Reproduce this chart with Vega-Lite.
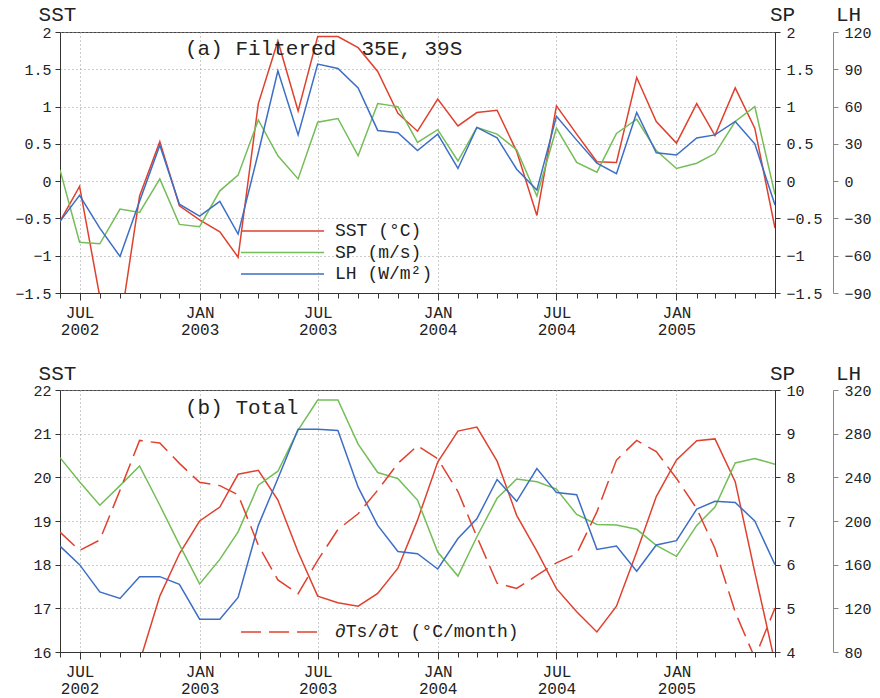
{
  "$schema": "https://vega.github.io/schema/vega-lite/v6.json",
  "background": "white",
  "padding": {"left": 14, "top": 2, "right": 5, "bottom": 0},
  "bounds": "flush",
  "spacing": 97,
  "config": {
    "font": "Liberation Mono",
    "view": {"stroke": "#444", "strokeWidth": 1},
    "axis": {
      "labelFont": "Liberation Mono", "labelFontSize": 15, "labelColor": "#222",
      "titleFont": "Liberation Mono", "titleFontWeight": "normal", "titleFontSize": 21, "titleColor": "#222",
      "domainColor": "#333", "tickColor": "#333", "grid": false, "tickSize": 5
    }
  },
  "datasets": {
    "filtered": [
      {"date": "2002-06-01", "sst": -0.54, "sp": 0.15, "lh": -32.4},
      {"date": "2002-07-01", "sst": -0.07, "sp": -0.82, "lh": -11.4},
      {"date": "2002-08-01", "sst": -1.55, "sp": -0.84, "lh": -37.8},
      {"date": "2002-09-01", "sst": -1.95, "sp": -0.375, "lh": -60.6},
      {"date": "2002-10-01", "sst": -0.2, "sp": -0.42, "lh": -16.2},
      {"date": "2002-11-01", "sst": 0.53, "sp": 0.03, "lh": 28.8},
      {"date": "2002-12-01", "sst": -0.33, "sp": -0.58, "lh": -18.6},
      {"date": "2003-01-01", "sst": -0.52, "sp": -0.61, "lh": -28.2},
      {"date": "2003-02-01", "sst": -0.68, "sp": -0.13, "lh": -16.2},
      {"date": "2003-03-01", "sst": -1.02, "sp": 0.08, "lh": -42.6},
      {"date": "2003-04-01", "sst": 1.04, "sp": 0.82, "lh": 22.8},
      {"date": "2003-05-01", "sst": 1.88, "sp": 0.34, "lh": 88.8},
      {"date": "2003-06-01", "sst": 0.94, "sp": 0.03, "lh": 37.2},
      {"date": "2003-07-01", "sst": 1.94, "sp": 0.79, "lh": 94.2},
      {"date": "2003-08-01", "sst": 1.94, "sp": 0.84, "lh": 90.6},
      {"date": "2003-09-01", "sst": 1.79, "sp": 0.34, "lh": 75},
      {"date": "2003-10-01", "sst": 1.47, "sp": 1.04, "lh": 40.8},
      {"date": "2003-11-01", "sst": 0.91, "sp": 1.0, "lh": 39},
      {"date": "2003-12-01", "sst": 0.67, "sp": 0.52, "lh": 24.6},
      {"date": "2004-01-01", "sst": 1.1, "sp": 0.69, "lh": 37.8},
      {"date": "2004-02-01", "sst": 0.74, "sp": 0.27, "lh": 10.2},
      {"date": "2004-03-01", "sst": 0.92, "sp": 0.72, "lh": 43.2},
      {"date": "2004-04-01", "sst": 0.95, "sp": 0.63, "lh": 34.8},
      {"date": "2004-05-01", "sst": 0.4, "sp": 0.42, "lh": 9.6},
      {"date": "2004-06-01", "sst": -0.46, "sp": -0.2, "lh": -7.2},
      {"date": "2004-07-01", "sst": 1.01, "sp": 0.71, "lh": 52.2},
      {"date": "2004-08-01", "sst": 0.63, "sp": 0.25, "lh": 33},
      {"date": "2004-09-01", "sst": 0.26, "sp": 0.12, "lh": 14.4},
      {"date": "2004-10-01", "sst": 0.25, "sp": 0.64, "lh": 6},
      {"date": "2004-11-01", "sst": 1.39, "sp": 0.83, "lh": 55.2},
      {"date": "2004-12-01", "sst": 0.8, "sp": 0.41, "lh": 22.8},
      {"date": "2005-01-01", "sst": 0.51, "sp": 0.17, "lh": 21},
      {"date": "2005-02-01", "sst": 1.04, "sp": 0.24, "lh": 34.8},
      {"date": "2005-03-01", "sst": 0.61, "sp": 0.37, "lh": 37.2},
      {"date": "2005-04-01", "sst": 1.25, "sp": 0.8, "lh": 48},
      {"date": "2005-05-01", "sst": 0.71, "sp": 1.0, "lh": 30},
      {"date": "2005-06-01", "sst": -0.63, "sp": -0.18, "lh": -19.2}
    ],
    "total": [
      {"date": "2002-06-01", "sst": 15.9, "sp": 8.45, "lh": 177, "dtsdt": -0.17},
      {"date": "2002-07-01", "sst": 15.5, "sp": 7.9, "lh": 160, "dtsdt": -0.45},
      {"date": "2002-08-01", "sst": 15.2, "sp": 7.36, "lh": 135, "dtsdt": -0.29},
      {"date": "2002-09-01", "sst": 15.3, "sp": 7.81, "lh": 129, "dtsdt": 0.47},
      {"date": "2002-10-01", "sst": 15.77, "sp": 8.26, "lh": 149, "dtsdt": 1.23},
      {"date": "2002-11-01", "sst": 17.28, "sp": 7.36, "lh": 149, "dtsdt": 1.19},
      {"date": "2002-12-01", "sst": 18.25, "sp": 6.46, "lh": 142, "dtsdt": 0.88},
      {"date": "2003-01-01", "sst": 19.0, "sp": 5.56, "lh": 110, "dtsdt": 0.59},
      {"date": "2003-02-01", "sst": 19.32, "sp": 6.12, "lh": 110, "dtsdt": 0.54},
      {"date": "2003-03-01", "sst": 20.07, "sp": 6.75, "lh": 130, "dtsdt": 0.4},
      {"date": "2003-04-01", "sst": 20.16, "sp": 7.82, "lh": 196, "dtsdt": -0.37},
      {"date": "2003-05-01", "sst": 19.48, "sp": 8.14, "lh": 239, "dtsdt": -0.9},
      {"date": "2003-06-01", "sst": 18.29, "sp": 9.08, "lh": 284, "dtsdt": -1.11},
      {"date": "2003-07-01", "sst": 17.28, "sp": 9.77, "lh": 284, "dtsdt": -0.6},
      {"date": "2003-08-01", "sst": 17.13, "sp": 9.77, "lh": 283, "dtsdt": -0.13},
      {"date": "2003-09-01", "sst": 17.05, "sp": 8.76, "lh": 231, "dtsdt": 0.11},
      {"date": "2003-10-01", "sst": 17.34, "sp": 8.11, "lh": 196, "dtsdt": 0.47},
      {"date": "2003-11-01", "sst": 17.92, "sp": 7.97, "lh": 172, "dtsdt": 0.88},
      {"date": "2003-12-01", "sst": 19.02, "sp": 7.48, "lh": 170, "dtsdt": 1.15},
      {"date": "2004-01-01", "sst": 20.35, "sp": 6.29, "lh": 156, "dtsdt": 0.95},
      {"date": "2004-02-01", "sst": 21.06, "sp": 5.74, "lh": 184, "dtsdt": 0.45},
      {"date": "2004-03-01", "sst": 21.15, "sp": 6.64, "lh": 202, "dtsdt": -0.24},
      {"date": "2004-04-01", "sst": 20.37, "sp": 7.52, "lh": 238, "dtsdt": -0.95},
      {"date": "2004-05-01", "sst": 19.13, "sp": 7.96, "lh": 218, "dtsdt": -1.03},
      {"date": "2004-06-01", "sst": 18.31, "sp": 7.9, "lh": 248, "dtsdt": -0.83},
      {"date": "2004-07-01", "sst": 17.45, "sp": 7.73, "lh": 226, "dtsdt": -0.64},
      {"date": "2004-08-01", "sst": 16.92, "sp": 7.15, "lh": 224, "dtsdt": -0.5},
      {"date": "2004-09-01", "sst": 16.46, "sp": 6.92, "lh": 174, "dtsdt": 0.14},
      {"date": "2004-10-01", "sst": 17.05, "sp": 6.91, "lh": 177, "dtsdt": 0.93},
      {"date": "2004-11-01", "sst": 18.29, "sp": 6.81, "lh": 154, "dtsdt": 1.23},
      {"date": "2004-12-01", "sst": 19.56, "sp": 6.44, "lh": 178, "dtsdt": 1.06},
      {"date": "2005-01-01", "sst": 20.4, "sp": 6.19, "lh": 182, "dtsdt": 0.65},
      {"date": "2005-02-01", "sst": 20.84, "sp": 6.9, "lh": 211, "dtsdt": 0.19},
      {"date": "2005-03-01", "sst": 20.88, "sp": 7.32, "lh": 218, "dtsdt": -0.42},
      {"date": "2005-04-01", "sst": 19.9, "sp": 8.33, "lh": 217, "dtsdt": -1.39},
      {"date": "2005-05-01", "sst": 17.83, "sp": 8.43, "lh": 200, "dtsdt": -2.09},
      {"date": "2005-06-01", "sst": 15.75, "sp": 8.3, "lh": 160, "dtsdt": -1.33}
    ]
  },
  "resolve": {"scale": {"color": "independent", "strokeDash": "independent"}},
  "vconcat": [
    {
      "data": {"name": "filtered"},
      "width": 715,
      "height": 261,
      "title": {"text": "(a) Filtered\u00a0 35E, 39S", "anchor": "start", "frame": "group", "dx": 125, "dy": 35, "offset": -38, "baseline": "alphabetic", "fontSize": 21, "font": "Liberation Mono", "fontWeight": "normal", "color": "#222"},
      "encoding": {
        "x": {
          "field": "date", "type": "temporal",
          "scale": {"type": "utc", "nice": false},
          "axis": {
            "title": null,
            "tickCount": {"interval": "month", "step": 1},
            "labelExpr": "utcmonth(datum.value) % 6 == 0 ? [upper(utcFormat(datum.value, '%b')), utcFormat(datum.value, '%Y')] : ''",
            "labelFontSize": 16, "labelLineHeight": 17, "labelPadding": 4,
            "labelAlign": "center", "labelOverlap": false, "labelFlush": false,
            "tickSize": {"condition": {"test": "utcmonth(datum.value) % 6 == 0", "value": 7}, "value": 5},
            "grid": true, "gridDash": [1, 3], "gridColor": "#999",
            "gridOpacity": {"condition": {"test": "utcmonth(datum.value) % 6 == 0", "value": 1}, "value": 0}
          }
        }
      },
      "layer": [
        {
          "mark": {"type": "line", "clip": true, "strokeWidth": 1.5},
          "encoding": {
            "y": {"field": "sst", "type": "quantitative", "scale": {"domain": [-1.5, 2], "nice": false, "zero": false},
              "axis": {"orient": "left", "values": [-1.5, -1, -0.5, 0, 0.5, 1, 1.5, 2], "format": "~g", "labelPadding": 4,
                "grid": true, "gridDash": [1, 3], "gridColor": "#999",
                "title": "SST", "titleAngle": 0, "titleAlign": "center", "titleBaseline": "alphabetic", "titleX": -3, "titleY": -12}},
            "color": {"datum": "SST (°C)", "type": "nominal",
              "scale": {"domain": ["SST (°C)", "SP (m/s)", "LH (W/m²)"], "range": ["#e0412e", "#74bd57", "#3d6ec5"]},
              "legend": {"orient": "none", "legendX": 180, "legendY": 190, "title": null, "symbolType": "stroke", "symbolSize": 6889, "symbolStrokeWidth": 1.5, "clipHeight": 18, "labelFont": "Liberation Mono", "labelFontSize": 18, "labelColor": "#222", "labelOffset": 10, "labelLimit": 300, "rowPadding": 3.5}}
          }
        },
        {
          "mark": {"type": "line", "clip": true, "strokeWidth": 1.5},
          "encoding": {
            "y": {"field": "sp", "type": "quantitative", "scale": {"domain": [-1.5, 2], "nice": false, "zero": false},
              "axis": {"orient": "right", "values": [-1.5, -1, -0.5, 0, 0.5, 1, 1.5, 2], "format": "~g", "labelPadding": 6,
                "title": "SP", "titleAngle": 0, "titleAlign": "center", "titleBaseline": "alphabetic", "titleX": 7, "titleY": -12}},
            "color": {"datum": "SP (m/s)", "type": "nominal"}
          }
        },
        {
          "mark": {"type": "line", "clip": true, "strokeWidth": 1.5},
          "encoding": {
            "y": {"field": "lh", "type": "quantitative", "scale": {"domain": [-90, 120], "nice": false, "zero": false},
              "axis": {"orient": "right", "offset": 58, "values": [-90, -60, -30, 0, 30, 60, 90, 120], "format": "d", "labelPadding": 6,
                "domainColor": "#888", "tickColor": "#888",
                "title": "LH", "titleAngle": 0, "titleAlign": "center", "titleBaseline": "alphabetic", "titleX": 15, "titleY": -12}},
            "color": {"datum": "LH (W/m²)", "type": "nominal"}
          }
        }
      ],
      "resolve": {"scale": {"y": "independent"}}
    },
    {
      "data": {"name": "total"},
      "width": 715,
      "height": 262,
      "title": {"text": "(b) Total", "anchor": "start", "frame": "group", "dx": 125, "dy": 35, "offset": -38, "baseline": "alphabetic", "fontSize": 21, "font": "Liberation Mono", "fontWeight": "normal", "color": "#222"},
      "encoding": {
        "x": {
          "field": "date", "type": "temporal",
          "scale": {"type": "utc", "nice": false},
          "axis": {
            "title": null,
            "tickCount": {"interval": "month", "step": 1},
            "labelExpr": "utcmonth(datum.value) % 6 == 0 ? [upper(utcFormat(datum.value, '%b')), utcFormat(datum.value, '%Y')] : ''",
            "labelFontSize": 16, "labelLineHeight": 17, "labelPadding": 4,
            "labelAlign": "center", "labelOverlap": false, "labelFlush": false,
            "tickSize": {"condition": {"test": "utcmonth(datum.value) % 6 == 0", "value": 7}, "value": 5},
            "grid": true, "gridDash": [1, 3], "gridColor": "#999",
            "gridOpacity": {"condition": {"test": "utcmonth(datum.value) % 6 == 0", "value": 1}, "value": 0}
          }
        }
      },
      "layer": [
        {
          "mark": {"type": "line", "clip": true, "strokeWidth": 1.5, "color": "#e0412e"},
          "encoding": {
            "y": {"field": "sst", "type": "quantitative", "scale": {"domain": [16, 22], "nice": false, "zero": false},
              "axis": {"orient": "left", "values": [16, 17, 18, 19, 20, 21, 22], "format": "d", "labelPadding": 4,
                "grid": true, "gridDash": [1, 3], "gridColor": "#999",
                "title": "SST", "titleAngle": 0, "titleAlign": "center", "titleBaseline": "alphabetic", "titleX": -3, "titleY": -11}}
          }
        },
        {
          "mark": {"type": "line", "clip": true, "strokeWidth": 1.5, "color": "#74bd57"},
          "encoding": {
            "y": {"field": "sp", "type": "quantitative", "scale": {"domain": [4, 10], "nice": false, "zero": false},
              "axis": {"orient": "right", "values": [4, 5, 6, 7, 8, 9, 10], "format": "d", "labelPadding": 6,
                "title": "SP", "titleAngle": 0, "titleAlign": "center", "titleBaseline": "alphabetic", "titleX": 7, "titleY": -11}}
          }
        },
        {
          "mark": {"type": "line", "clip": true, "strokeWidth": 1.5, "color": "#3d6ec5"},
          "encoding": {
            "y": {"field": "lh", "type": "quantitative", "scale": {"domain": [80, 320], "nice": false, "zero": false},
              "axis": {"orient": "right", "offset": 58, "values": [80, 120, 160, 200, 240, 280, 320], "format": "d", "labelPadding": 6,
                "domainColor": "#888", "tickColor": "#888",
                "title": "LH", "titleAngle": 0, "titleAlign": "center", "titleBaseline": "alphabetic", "titleX": 15, "titleY": -11}}
          }
        },
        {
          "mark": {"type": "line", "clip": true, "strokeWidth": 1.5, "color": "#e0412e"},
          "encoding": {
            "y": {"field": "dtsdt", "type": "quantitative", "scale": {"domain": [-2, 2], "nice": false, "zero": false}, "axis": null},
            "strokeDash": {"datum": "∂Ts/∂t (°C/month)", "type": "nominal",
              "scale": {"range": [[20, 8]]},
              "legend": {"orient": "none", "legendX": 180, "legendY": 233, "title": null, "symbolType": "stroke", "symbolSize": 6400, "symbolStrokeWidth": 1.5, "symbolStrokeColor": "#e0412e", "clipHeight": 18, "labelFont": "Liberation Mono", "labelFontSize": 18, "labelColor": "#222", "labelOffset": 13, "labelLimit": 300}}
          }
        }
      ],
      "resolve": {"scale": {"y": "independent"}}
    }
  ]
}
